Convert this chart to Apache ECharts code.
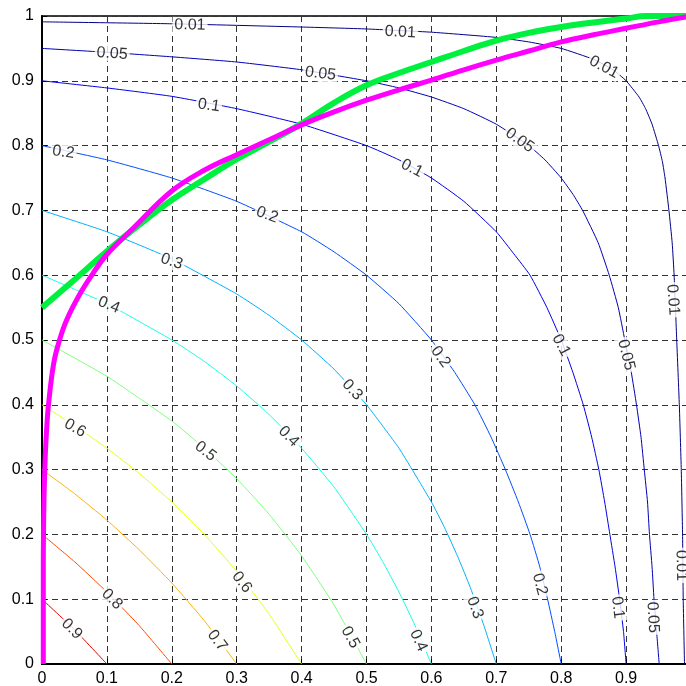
<!DOCTYPE html>
<html><head><meta charset="utf-8">
<script src="https://cdn.jsdelivr.net/npm/echarts@6/dist/echarts.min.js"></script>
<style>html,body{margin:0;padding:0;background:#fff}#c{width:686px;height:686px}</style>
</head><body><div id="c"></div>
<script>
// ---- data ----
const levels = ['0.01','0.05','0.1','0.2','0.3','0.4','0.5','0.6','0.7','0.8','0.9'];
const c001 = [[0,0.991],[0.2,0.988],[0.4,0.983],[0.5,0.98],[0.6,0.975],[0.7,0.967],[0.75,0.96],[0.8,0.95],[0.85,0.933],[0.88,0.917],[0.9,0.9],[0.92,0.875],[0.93,0.857],[0.94,0.833],[0.95,0.8],[0.956,0.775],[0.96,0.75],[0.966,0.7],[0.971,0.65],[0.974,0.6],[0.978,0.5],[0.982,0.4],[0.985,0.3],[0.987,0.2],[0.988,0.1],[0.99,0]];
const c005 = [[0,0.95],[0.1,0.944],[0.2,0.937],[0.3,0.929],[0.4,0.917],[0.5,0.9],[0.55,0.889],[0.6,0.875],[0.65,0.857],[0.7,0.833],[0.75,0.8],[0.775,0.778],[0.8,0.75],[0.818,0.725],[0.833,0.7],[0.857,0.65],[0.874,0.6],[0.888,0.55],[0.898,0.5],[0.908,0.45],[0.916,0.4],[0.923,0.35],[0.928,0.3],[0.933,0.25],[0.936,0.2],[0.94,0.15],[0.943,0.1],[0.947,0.05],[0.951,0]];
const c01 = [[0,0.9],[0.1,0.889],[0.2,0.876],[0.3,0.857],[0.4,0.833],[0.5,0.8],[0.55,0.778],[0.6,0.75],[0.65,0.714],[0.7,0.667],[0.727,0.633],[0.752,0.6],[0.778,0.55],[0.8,0.5],[0.818,0.45],[0.834,0.4],[0.847,0.35],[0.858,0.3],[0.867,0.25],[0.875,0.2],[0.883,0.15],[0.89,0.1],[0.896,0.05],[0.9,0]];
const c02 = [[0,0.8],[0.1,0.778],[0.2,0.75],[0.3,0.714],[0.4,0.667],[0.45,0.636],[0.5,0.6],[0.55,0.556],[0.6,0.5],[0.636,0.45],[0.667,0.4],[0.692,0.35],[0.714,0.3],[0.734,0.25],[0.752,0.2],[0.767,0.15],[0.779,0.1],[0.79,0.05],[0.8,0]];
const c03 = [[0,0.7],[0.1,0.667],[0.2,0.625],[0.3,0.571],[0.35,0.538],[0.4,0.5],[0.45,0.455],[0.5,0.4],[0.55,0.333],[0.6,0.25],[0.62,0.211],[0.64,0.167],[0.66,0.118],[0.68,0.062],[0.7,0]];
const c04 = [[0,0.6],[0.1,0.556],[0.2,0.5],[0.25,0.467],[0.3,0.429],[0.35,0.385],[0.4,0.333],[0.45,0.273],[0.5,0.2],[0.525,0.158],[0.55,0.111],[0.575,0.059],[0.6,0]];
const c05 = [[0,0.5],[0.1,0.444],[0.2,0.375],[0.25,0.333],[0.3,0.286],[0.35,0.231],[0.4,0.167],[0.45,0.091],[0.5,0]];
const c06 = [[0,0.4],[0.05,0.368],[0.1,0.333],[0.15,0.294],[0.2,0.25],[0.25,0.2],[0.3,0.143],[0.35,0.077],[0.4,0]];
const c07 = [[0,0.3],[0.05,0.263],[0.1,0.222],[0.15,0.176],[0.2,0.125],[0.25,0.067],[0.3,0]];
const c08 = [[0,0.2],[0.05,0.158],[0.1,0.111],[0.15,0.059],[0.2,0]];
const c09 = [[0,0.1],[0.05,0.053],[0.1,0]];
const greenCurve = [[0,0.55],[0.05,0.593],[0.1,0.637],[0.15,0.678],[0.2,0.716],[0.25,0.748],[0.3,0.779],[0.35,0.806],[0.4,0.834],[0.45,0.866],[0.5,0.893],[0.55,0.912],[0.6,0.929],[0.65,0.946],[0.7,0.962],[0.75,0.974],[0.8,0.983],[0.85,0.99],[0.9,0.996],[0.93,1.0],[1,1]];
const magentaCurve = [[0.002,0],[0.002,0.15],[0.003,0.25],[0.005,0.32],[0.007,0.36],[0.01,0.4],[0.018,0.464],[0.027,0.5],[0.038,0.531],[0.059,0.572],[0.08,0.605],[0.1,0.632],[0.14,0.672],[0.2,0.73],[0.25,0.762],[0.3,0.786],[0.35,0.809],[0.4,0.832],[0.45,0.852],[0.5,0.87],[0.55,0.886],[0.6,0.901],[0.65,0.917],[0.7,0.932],[0.75,0.946],[0.8,0.96],[0.85,0.971],[0.9,0.981],[0.95,0.991],[1,1]];
// contour labels: [x, y, text]
const contourLabels = [
 [0.228,0.986,'0.01'],[0.552,0.975,'0.01'],[0.866,0.921,'0.01'],[0.972,0.562,'0.01'],[0.985,0.152,'0.01'],
 [0.108,0.942,'0.05'],[0.429,0.911,'0.05'],[0.736,0.808,'0.05'],[0.900,0.477,'0.05'],[0.941,0.072,'0.05'],
 [0.257,0.862,'0.1'],[0.570,0.765,'0.1'],[0.800,0.492,'0.1'],[0.887,0.087,'0.1'],
 [0.033,0.790,'0.2'],[0.347,0.693,'0.2'],[0.614,0.474,'0.2'],[0.767,0.123,'0.2'],
 [0.200,0.621,'0.3'],[0.478,0.423,'0.3'],[0.667,0.087,'0.3'],
 [0.103,0.554,'0.4'],[0.380,0.351,'0.4'],[0.580,0.036,'0.4'],
 [0.252,0.328,'0.5'],[0.475,0.041,'0.5'],
 [0.051,0.364,'0.6'],[0.308,0.126,'0.6'],
 [0.270,0.036,'0.7'],
 [0.108,0.100,'0.8'],
 [0.046,0.054,'0.9']
];
// ---- styles ----
const labelAngles = [-1,-3,-28,-86,-89, -4,-7,-35,-76,-87, -8,-27,-62,-83, -8,-20,-54,-75, -18,-47,-70, -22,-45,-65, -38,-61, -30,-52, -53, -45, -45];
const levelColors = ['#00008a','#0000b2','#0000e6','#004dff','#00b2ff','#19ffe6','#80ff80','#e6ff19','#ffb200','#ff4d00','#e60000'];
const contours = [c001,c005,c01,c02,c03,c04,c05,c06,c07,c08,c09];

const font = "'Liberation Sans', Arial, sans-serif";
const series = contours.map((d,i)=>({
  type:'line', data:d, showSymbol:false, smooth:0.15, silent:true, z:3,
  lineStyle:{color:levelColors[i], width:1}
}));
series.push({
  type:'scatter', symbolSize:0, silent:true, z:5,
  data: contourLabels.map((p,i)=>({name:p[2], value:[p[0],p[1]], label:{rotate:labelAngles[i]}})),
  label:{show:true, position:'inside', formatter:'{b}', color:'#000', fontSize:16, fontFamily:font,
    backgroundColor:'#fff', padding:[0,2], align:'center', verticalAlign:'middle'}
});
series.push({type:'line', data:greenCurve, showSymbol:false, smooth:0.4, silent:true, z:8,
  lineStyle:{color:'#00f040', width:6}});
series.push({type:'line', data:magentaCurve, showSymbol:false, smooth:0.4, silent:true, z:9,
  lineStyle:{color:'#ff00ff', width:5}});

const chart = echarts.init(document.getElementById('c'), null, {renderer:'canvas'});
chart.setOption({
  animation:false,
  backgroundColor:'#fff',
  grid:{left:42, top:16, width:649, height:648, show:true, borderColor:'#000', borderWidth:1.5,
    containLabel:false, outerBoundsMode:'none'},
  xAxis:{type:'value', min:0, max:1, interval:0.1,
    axisLine:{show:true, onZero:false, lineStyle:{color:'#000', width:2}},
    axisTick:{show:true, inside:true, length:5, lineStyle:{color:'#000'}},
    axisLabel:{color:'#000', fontSize:16, fontFamily:font, margin:7},
    splitLine:{show:true, lineStyle:{color:'#333', width:1, type:[6,4]}}},
  yAxis:{type:'value', min:0, max:1, interval:0.1,
    axisLine:{show:true, onZero:false, lineStyle:{color:'#000', width:2}},
    axisTick:{show:true, inside:true, length:5, lineStyle:{color:'#000'}},
    axisLabel:{color:'#000', fontSize:16, fontFamily:font, margin:8},
    splitLine:{show:true, lineStyle:{color:'#333', width:1, type:[6,4]}}},
  series:series
});
</script></body></html>
